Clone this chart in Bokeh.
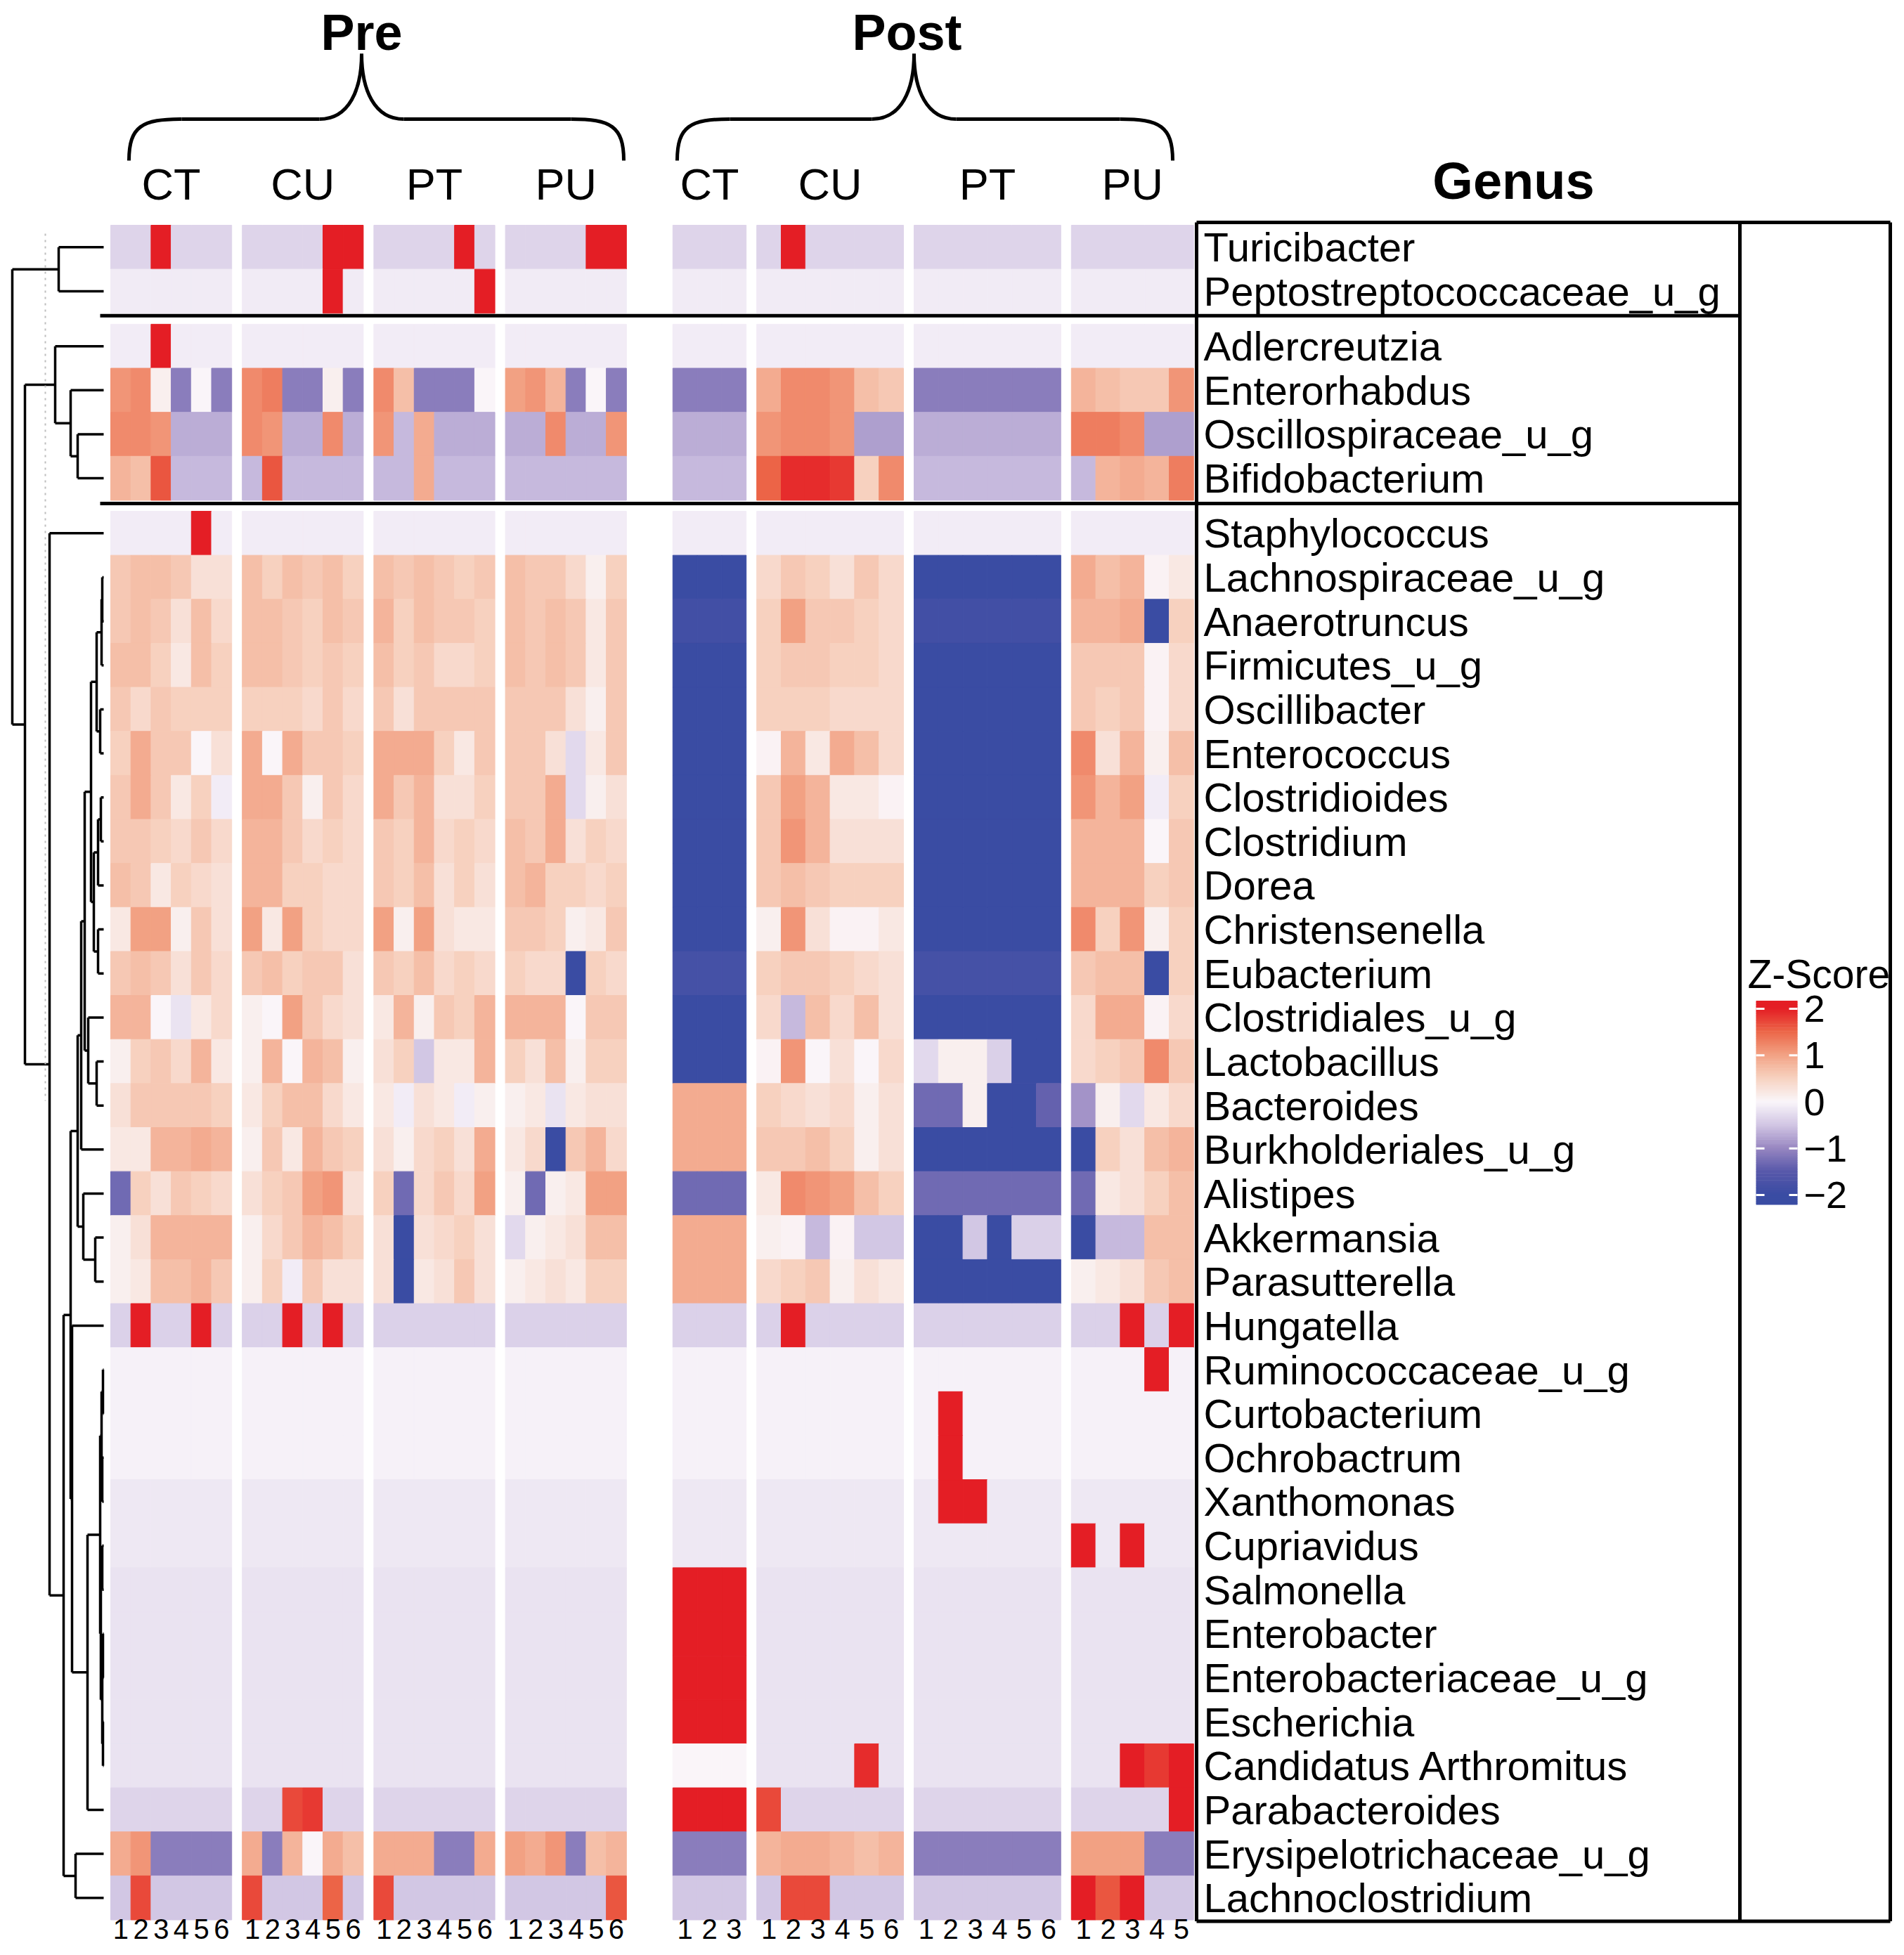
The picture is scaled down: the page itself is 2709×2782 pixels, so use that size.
import numpy as np
from bokeh.plotting import figure
from bokeh.models import Range1d, LinearColorMapper, ColumnDataSource
from bokeh.transform import transform
from bokeh.core.properties import value
from bokeh.embed import file_html
from bokeh.resources import INLINE

# ---------------- data ----------------
genera = ["Turicibacter", "Peptostreptococcaceae_u_g", "Adlercreutzia", "Enterorhabdus",
          "Oscillospiraceae_u_g", "Bifidobacterium", "Staphylococcus", "Lachnospiraceae_u_g",
          "Anaerotruncus", "Firmicutes_u_g", "Oscillibacter", "Enterococcus", "Clostridioides",
          "Clostridium", "Dorea", "Christensenella", "Eubacterium", "Clostridiales_u_g",
          "Lactobacillus", "Bacteroides", "Burkholderiales_u_g", "Alistipes", "Akkermansia",
          "Parasutterella", "Hungatella", "Ruminococcaceae_u_g", "Curtobacterium", "Ochrobactrum",
          "Xanthomonas", "Cupriavidus", "Salmonella", "Enterobacter", "Enterobacteriaceae_u_g",
          "Escherichia", "Candidatus Arthromitus", "Parabacteroides", "Erysipelotrichaceae_u_g",
          "Lachnoclostridium"]
section_sizes = [2, 4, 32]
phases = ["Pre", "Post"]
treatments = ["CT", "CU", "PT", "PU"]
pre_reps = [6, 6, 6, 6]
post_reps = [3, 6, 6, 5]

# z-scores: Pre CT(6) CU(6) PT(6) PU(6) | Post CT(3) CU(6) PT(6) PU(5)
z_turicibacter = [-0.35,-0.35,2.3,-0.35,-0.35,-0.35, -0.35,-0.35,-0.35,-0.35,2.3,2.3, -0.35,-0.35,-0.35,-0.35,2.3,-0.35, -0.35,-0.35,-0.35,-0.35,2.3,2.3,
                  -0.35,-0.35,-0.35, -0.35,2.3,-0.35,-0.35,-0.35,-0.35, -0.35,-0.35,-0.35,-0.35,-0.35,-0.35, -0.35,-0.35,-0.35,-0.35,-0.35]
z_peptostrep = [-0.12,-0.12,-0.12,-0.12,-0.12,-0.12, -0.12,-0.12,-0.12,-0.12,2.3,-0.12, -0.12,-0.12,-0.12,-0.12,-0.12,2.3, -0.12,-0.12,-0.12,-0.12,-0.12,-0.12,
                -0.12,-0.12,-0.12, -0.12,-0.12,-0.12,-0.12,-0.12,-0.12, -0.12,-0.12,-0.12,-0.12,-0.12,-0.12, -0.12,-0.12,-0.12,-0.12,-0.12]
z_adlercreutzia = [-0.1,-0.1,2.3,-0.1,-0.1,-0.1, -0.1,-0.1,-0.1,-0.1,-0.1,-0.1, -0.1,-0.1,-0.1,-0.1,-0.1,-0.1, -0.1,-0.1,-0.1,-0.1,-0.1,-0.1,
                   -0.1,-0.1,-0.1, -0.1,-0.1,-0.1,-0.1,-0.1,-0.1, -0.1,-0.1,-0.1,-0.1,-0.1,-0.1, -0.1,-0.1,-0.1,-0.1,-0.1]
z_enterorhabdus = [1.1,1.2,0.1,-1.1,0.0,-1.1, 1.2,1.3,-1.1,-1.1,0.1,-1.1, 1.2,0.7,-1.1,-1.1,-1.1,0.0, 1.0,1.1,0.8,-1.1,0.0,-1.1,
                   -1.1,-1.1,-1.1, 0.9,1.2,1.2,1.1,0.7,0.6, -1.1,-1.1,-1.1,-1.1,-1.1,-1.1, 0.8,0.7,0.6,0.6,1.1]
z_oscillospiraceae = [1.2,1.2,1.1,-0.7,-0.7,-0.7, 1.2,1.1,-0.7,-0.7,1.2,-0.7, 1.1,-0.6,0.9,-0.7,-0.7,-0.7, -0.7,-0.7,1.2,-0.7,-0.7,1.1,
                      -0.7,-0.7,-0.7, 1.1,1.2,1.2,1.1,-0.8,-0.8, -0.7,-0.7,-0.7,-0.7,-0.7,-0.7, 1.3,1.3,1.2,-0.8,-0.8]
z_bifidobacterium = [0.8,0.7,1.6,-0.6,-0.6,-0.6, -0.6,1.6,-0.6,-0.6,-0.6,-0.6, -0.6,-0.6,0.9,-0.6,-0.6,-0.6, -0.6,-0.6,-0.6,-0.6,-0.6,-0.6,
                     -0.6,-0.6,-0.6, 1.5,1.9,1.9,1.8,0.5,1.2, -0.6,-0.6,-0.6,-0.6,-0.6,-0.6, -0.6,0.8,0.9,0.8,1.3]
z_staphylococcus = [-0.1,-0.1,-0.1,-0.1,2.3,-0.1, -0.1,-0.1,-0.1,-0.1,-0.1,-0.1, -0.1,-0.1,-0.1,-0.1,-0.1,-0.1, -0.1,-0.1,-0.1,-0.1,-0.1,-0.1,
                    -0.1,-0.1,-0.1, -0.1,-0.1,-0.1,-0.1,-0.1,-0.1, -0.1,-0.1,-0.1,-0.1,-0.1,-0.1, -0.1,-0.1,-0.1,-0.1,-0.1]
z_lachnospiraceae = [0.6,0.7,0.7,0.6,0.3,0.3, 0.7,0.5,0.7,0.6,0.7,0.5, 0.7,0.6,0.7,0.6,0.5,0.6, 0.7,0.6,0.6,0.4,0.1,0.5,
                     -2.0,-2.0,-2.0, 0.4,0.6,0.5,0.3,0.6,0.4, -2.0,-2.0,-2.0,-2.0,-2.0,-2.0, 0.9,0.7,0.8,0.05,0.2]
z_anaerotruncus = [0.6,0.7,0.6,0.3,0.7,0.4, 0.7,0.7,0.6,0.5,0.7,0.6, 0.8,0.5,0.7,0.6,0.6,0.5, 0.7,0.6,0.7,0.6,0.2,0.6,
                   -1.85,-1.85,-1.85, 0.5,1.0,0.6,0.6,0.5,0.4, -1.85,-1.85,-1.85,-1.85,-1.85,-1.85, 0.8,0.8,0.9,-2.0,0.5]
z_firmicutes = [0.7,0.7,0.5,0.2,0.7,0.5, 0.7,0.7,0.6,0.5,0.6,0.5, 0.7,0.5,0.6,0.4,0.4,0.5, 0.7,0.6,0.7,0.6,0.2,0.6,
                -2.0,-2.0,-2.0, 0.5,0.6,0.6,0.5,0.5,0.4, -2.0,-2.0,-2.0,-2.0,-2.0,-2.0, 0.6,0.6,0.6,0.05,0.4]
z_oscillibacter = [0.6,0.4,0.6,0.5,0.5,0.5, 0.5,0.5,0.5,0.4,0.6,0.4, 0.6,0.3,0.6,0.6,0.6,0.6, 0.6,0.6,0.6,0.3,0.1,0.6,
                   -2.0,-2.0,-2.0, 0.5,0.5,0.5,0.4,0.4,0.4, -2.0,-2.0,-2.0,-2.0,-2.0,-2.0, 0.6,0.5,0.6,0.05,0.4]
z_enterococcus = [0.5,0.9,0.6,0.6,0.0,0.3, 0.9,0.0,0.9,0.6,0.6,0.5, 0.9,0.9,0.9,0.5,0.2,0.6, 0.6,0.6,0.3,-0.3,0.2,0.6,
                  -2.0,-2.0,-2.0, 0.05,0.8,0.2,0.9,0.7,0.4, -2.0,-2.0,-2.0,-2.0,-2.0,-2.0, 1.2,0.3,0.8,0.1,0.7]
z_clostridioides = [0.6,0.9,0.6,0.2,0.5,-0.1, 0.9,0.9,0.6,0.1,0.6,0.4, 0.9,0.6,0.8,0.3,0.3,0.5, 0.6,0.6,0.9,-0.3,0.1,0.3,
                    -2.0,-2.0,-2.0, 0.6,1.0,0.8,0.2,0.2,0.05, -2.0,-2.0,-2.0,-2.0,-2.0,-2.0, 1.1,0.8,1.0,-0.1,0.5]
z_clostridium = [0.6,0.6,0.5,0.4,0.6,0.4, 0.8,0.8,0.6,0.4,0.5,0.4, 0.6,0.5,0.8,0.4,0.5,0.4, 0.7,0.6,0.9,0.3,0.5,0.4,
                 -2.0,-2.0,-2.0, 0.6,1.1,0.8,0.3,0.3,0.3, -2.0,-2.0,-2.0,-2.0,-2.0,-2.0, 0.8,0.8,0.8,0.0,0.6]
z_dorea = [0.7,0.6,0.2,0.5,0.4,0.3, 0.8,0.8,0.5,0.5,0.4,0.4, 0.6,0.5,0.7,0.3,0.5,0.3, 0.7,0.8,0.5,0.5,0.4,0.5,
           -2.0,-2.0,-2.0, 0.6,0.7,0.6,0.5,0.5,0.5, -2.0,-2.0,-2.0,-2.0,-2.0,-2.0, 0.8,0.8,0.8,0.5,0.6]
z_christensenella = [0.2,1.0,1.0,0.1,0.6,0.3, 1.0,0.2,1.0,0.5,0.4,0.4, 1.0,0.1,1.0,0.3,0.2,0.2, 0.6,0.6,0.5,0.1,0.2,0.6,
                     -2.0,-2.0,-2.0, 0.1,1.1,0.3,0.05,0.05,0.2, -2.0,-2.0,-2.0,-2.0,-2.0,-2.0, 1.2,0.5,1.1,0.1,0.5]
z_eubacterium = [0.6,0.7,0.6,0.3,0.6,0.4, 0.6,0.7,0.5,0.6,0.6,0.3, 0.6,0.5,0.7,0.4,0.5,0.4, 0.5,0.4,0.4,-2.0,0.5,0.4,
                 -1.8,-1.8,-1.8, 0.5,0.6,0.6,0.5,0.4,0.3, -1.8,-1.8,-1.8,-1.8,-1.8,-1.8, 0.6,0.7,0.7,-2.0,0.5]
z_clostridiales = [0.8,0.8,0.0,-0.2,0.2,0.4, 0.1,0.0,1.0,0.6,0.4,0.3, 0.2,0.8,0.1,0.6,0.5,0.8, 0.8,0.8,0.8,0.0,0.6,0.6,
                   -2.0,-2.0,-2.0, 0.4,-0.6,0.7,0.4,0.7,0.3, -2.0,-2.0,-2.0,-2.0,-2.0,-2.0, 0.4,0.9,0.9,0.05,0.4]
z_lactobacillus = [0.1,0.5,0.6,0.4,0.8,0.2, 0.1,0.8,0.0,0.8,0.7,0.1, 0.3,0.5,-0.5,0.2,0.2,0.8, 0.5,0.3,0.7,0.1,0.5,0.5,
                   -2.1,-2.1,-2.1, 0.05,1.1,0.0,0.3,0.0,0.4, -0.3,0.1,0.1,-0.4,-2.0,-2.0, 0.4,0.5,0.6,1.2,0.6]
z_bacteroides = [0.3,0.6,0.6,0.6,0.6,0.5, 0.2,0.5,0.7,0.7,0.4,0.2, 0.2,-0.1,0.3,0.2,-0.1,0.1, 0.1,0.2,-0.2,0.2,0.3,0.3,
                 0.9,0.9,0.9, 0.5,0.4,0.3,0.4,0.1,0.3, -1.3,-1.3,0.1,-2.0,-2.0,-1.4, -0.9,0.1,-0.3,0.2,0.4]
z_burkholderiales = [0.2,0.2,0.8,0.8,0.9,0.8, 0.1,0.6,0.2,0.8,0.6,0.5, 0.3,0.1,0.4,0.5,0.3,0.9, 0.2,0.4,-2.0,0.6,0.8,0.4,
                     0.9,0.9,0.9, 0.6,0.6,0.7,0.5,0.1,0.3, -2.0,-2.0,-2.0,-2.0,-2.0,-2.0, -2.0,0.5,0.3,0.7,0.8]
z_alistipes = [-1.3,0.5,0.3,0.6,0.5,0.4, 0.3,0.5,0.6,1.0,1.1,0.3, 0.5,-1.3,0.4,0.6,0.4,1.0, 0.1,-1.3,0.1,0.2,1.0,1.0,
               -1.3,-1.3,-1.3, 0.2,1.2,1.1,1.0,0.7,0.5, -1.3,-1.3,-1.3,-1.3,-1.3,-1.3, -1.3,0.2,0.3,0.5,0.7]
z_akkermansia = [0.1,0.3,0.8,0.8,0.8,0.8, 0.1,0.4,0.6,0.8,0.7,0.5, 0.3,-2.0,0.3,0.4,0.5,0.3, -0.3,0.1,0.2,0.3,0.7,0.7,
                 0.9,0.9,0.9, 0.1,0.05,-0.6,0.05,-0.5,-0.5, -2.0,-2.0,-0.5,-2.0,-0.4,-0.4, -2.0,-0.6,-0.6,0.7,0.7]
z_parasutterella = [0.1,0.2,0.7,0.7,0.8,0.6, 0.1,0.5,-0.1,0.6,0.3,0.3, 0.3,-2.0,0.2,0.3,0.6,0.3, 0.1,0.2,0.3,0.2,0.5,0.5,
                    0.9,0.9,0.9, 0.4,0.5,0.6,0.1,0.3,0.2, -2.0,-2.0,-2.0,-2.0,-2.0,-2.0, 0.1,0.2,0.3,0.6,0.7]
z_hungatella = [-0.38,2.3,-0.38,-0.38,2.3,-0.38, -0.38,-0.38,2.3,-0.38,2.3,-0.38, -0.38,-0.38,-0.38,-0.38,-0.38,-0.38, -0.38,-0.38,-0.38,-0.38,-0.38,-0.38,
                -0.38,-0.38,-0.38, -0.38,2.3,-0.38,-0.38,-0.38,-0.38, -0.38,-0.38,-0.38,-0.38,-0.38,-0.38, -0.38,-0.38,2.3,-0.38,2.3]
z_ruminococcaceae = [-0.05,-0.05,-0.05,-0.05,-0.05,-0.05, -0.05,-0.05,-0.05,-0.05,-0.05,-0.05, -0.05,-0.05,-0.05,-0.05,-0.05,-0.05, -0.05,-0.05,-0.05,-0.05,-0.05,-0.05,
                     -0.05,-0.05,-0.05, -0.05,-0.05,-0.05,-0.05,-0.05,-0.05, -0.05,-0.05,-0.05,-0.05,-0.05,-0.05, -0.05,-0.05,-0.05,2.3,-0.05]
z_curtobacterium = [-0.05,-0.05,-0.05,-0.05,-0.05,-0.05, -0.05,-0.05,-0.05,-0.05,-0.05,-0.05, -0.05,-0.05,-0.05,-0.05,-0.05,-0.05, -0.05,-0.05,-0.05,-0.05,-0.05,-0.05,
                    -0.05,-0.05,-0.05, -0.05,-0.05,-0.05,-0.05,-0.05,-0.05, -0.05,2.3,-0.05,-0.05,-0.05,-0.05, -0.05,-0.05,-0.05,-0.05,-0.05]
z_ochrobactrum = [-0.05,-0.05,-0.05,-0.05,-0.05,-0.05, -0.05,-0.05,-0.05,-0.05,-0.05,-0.05, -0.05,-0.05,-0.05,-0.05,-0.05,-0.05, -0.05,-0.05,-0.05,-0.05,-0.05,-0.05,
                  -0.05,-0.05,-0.05, -0.05,-0.05,-0.05,-0.05,-0.05,-0.05, -0.05,2.3,-0.05,-0.05,-0.05,-0.05, -0.05,-0.05,-0.05,-0.05,-0.05]
z_xanthomonas = [-0.15,-0.15,-0.15,-0.15,-0.15,-0.15, -0.15,-0.15,-0.15,-0.15,-0.15,-0.15, -0.15,-0.15,-0.15,-0.15,-0.15,-0.15, -0.15,-0.15,-0.15,-0.15,-0.15,-0.15,
                 -0.15,-0.15,-0.15, -0.15,-0.15,-0.15,-0.15,-0.15,-0.15, -0.15,2.3,2.3,-0.15,-0.15,-0.15, -0.15,-0.15,-0.15,-0.15,-0.15]
z_cupriavidus = [-0.15,-0.15,-0.15,-0.15,-0.15,-0.15, -0.15,-0.15,-0.15,-0.15,-0.15,-0.15, -0.15,-0.15,-0.15,-0.15,-0.15,-0.15, -0.15,-0.15,-0.15,-0.15,-0.15,-0.15,
                 -0.15,-0.15,-0.15, -0.15,-0.15,-0.15,-0.15,-0.15,-0.15, -0.15,-0.15,-0.15,-0.15,-0.15,-0.15, 2.3,-0.15,2.3,-0.15,-0.15]
z_salmonella = [-0.2,-0.2,-0.2,-0.2,-0.2,-0.2, -0.2,-0.2,-0.2,-0.2,-0.2,-0.2, -0.2,-0.2,-0.2,-0.2,-0.2,-0.2, -0.2,-0.2,-0.2,-0.2,-0.2,-0.2,
                2.3,2.3,2.3, -0.2,-0.2,-0.2,-0.2,-0.2,-0.2, -0.2,-0.2,-0.2,-0.2,-0.2,-0.2, -0.2,-0.2,-0.2,-0.2,-0.2]
z_enterobacter = [-0.2,-0.2,-0.2,-0.2,-0.2,-0.2, -0.2,-0.2,-0.2,-0.2,-0.2,-0.2, -0.2,-0.2,-0.2,-0.2,-0.2,-0.2, -0.2,-0.2,-0.2,-0.2,-0.2,-0.2,
                  2.3,2.3,2.3, -0.2,-0.2,-0.2,-0.2,-0.2,-0.2, -0.2,-0.2,-0.2,-0.2,-0.2,-0.2, -0.2,-0.2,-0.2,-0.2,-0.2]
z_enterobacteriaceae = [-0.2,-0.2,-0.2,-0.2,-0.2,-0.2, -0.2,-0.2,-0.2,-0.2,-0.2,-0.2, -0.2,-0.2,-0.2,-0.2,-0.2,-0.2, -0.2,-0.2,-0.2,-0.2,-0.2,-0.2,
                        2.3,2.3,2.3, -0.2,-0.2,-0.2,-0.2,-0.2,-0.2, -0.2,-0.2,-0.2,-0.2,-0.2,-0.2, -0.2,-0.2,-0.2,-0.2,-0.2]
z_escherichia = [-0.2,-0.2,-0.2,-0.2,-0.2,-0.2, -0.2,-0.2,-0.2,-0.2,-0.2,-0.2, -0.2,-0.2,-0.2,-0.2,-0.2,-0.2, -0.2,-0.2,-0.2,-0.2,-0.2,-0.2,
                 2.3,2.3,2.3, -0.2,-0.2,-0.2,-0.2,-0.2,-0.2, -0.2,-0.2,-0.2,-0.2,-0.2,-0.2, -0.2,-0.2,-0.2,-0.2,-0.2]
z_candidatus = [-0.2,-0.2,-0.2,-0.2,-0.2,-0.2, -0.2,-0.2,-0.2,-0.2,-0.2,-0.2, -0.2,-0.2,-0.2,-0.2,-0.2,-0.2, -0.2,-0.2,-0.2,-0.2,-0.2,-0.2,
                0.0,0.0,0.0, -0.2,-0.2,-0.2,-0.2,1.9,-0.2, -0.2,-0.2,-0.2,-0.2,-0.2,-0.2, -0.2,-0.2,2.3,1.8,2.3]
z_parabacteroides = [-0.35,-0.35,-0.35,-0.35,-0.35,-0.35, -0.35,-0.35,1.7,1.8,-0.35,-0.35, -0.35,-0.35,-0.35,-0.35,-0.35,-0.35, -0.35,-0.35,-0.35,-0.35,-0.35,-0.35,
                     2.3,2.3,2.3, 1.7,-0.35,-0.35,-0.35,-0.35,-0.35, -0.35,-0.35,-0.35,-0.35,-0.35,-0.35, -0.35,-0.35,-0.35,-0.35,2.3]
z_erysipelotrichaceae = [0.9,1.1,-1.1,-1.1,-1.1,-1.1, 0.9,-1.1,0.8,0.0,0.9,0.7, 0.9,0.9,0.9,-1.1,-1.1,0.9, 1.0,0.9,1.1,-1.1,0.7,0.8,
                         -1.1,-1.1,-1.1, 0.8,0.9,0.9,0.8,0.7,0.8, -1.1,-1.1,-1.1,-1.1,-1.1,-1.1, 1.0,1.0,1.0,-1.1,-1.1]
z_lachnoclostridium = [-0.5,1.7,-0.5,-0.5,-0.5,-0.5, 1.7,-0.5,-0.5,-0.5,1.5,-0.5, 1.7,-0.5,-0.5,-0.5,-0.5,-0.5, -0.5,-0.5,-0.5,-0.5,-0.5,1.6,
                       -0.5,-0.5,-0.5, -0.5,1.7,1.7,-0.5,-0.5,-0.5, -0.5,-0.5,-0.5,-0.5,-0.5,-0.5, 2.0,1.6,2.0,-0.5,-0.5]

z_rows = [z_turicibacter, z_peptostrep, z_adlercreutzia, z_enterorhabdus, z_oscillospiraceae,
          z_bifidobacterium, z_staphylococcus, z_lachnospiraceae, z_anaerotruncus, z_firmicutes,
          z_oscillibacter, z_enterococcus, z_clostridioides, z_clostridium, z_dorea, z_christensenella,
          z_eubacterium, z_clostridiales, z_lactobacillus, z_bacteroides, z_burkholderiales,
          z_alistipes, z_akkermansia, z_parasutterella, z_hungatella, z_ruminococcaceae,
          z_curtobacterium, z_ochrobactrum, z_xanthomonas, z_cupriavidus, z_salmonella,
          z_enterobacter, z_enterobacteriaceae, z_escherichia, z_candidatus, z_parabacteroides,
          z_erysipelotrichaceae, z_lachnoclostridium]

# row dendrogram: (merge height, left, right); leaves are row indices
row_tree = (130,
            (64, 0, 1),
            (112,
             (69, 2, (47, 3, (37, 4, 5))),
             (77, 6,
              (57,
               (47,
                (37,
                 (32,
                  (27,
                   (18, (10, (3, (2, 7, 8), 9), (5, 10, 11)),
                        (14, (8, (4, 12, 13), 14), (8, 15, 16))),
                   (22, 17, (10, 18, 19))),
                  20),
                 (29, 21, (12, 22, 23))),
                (45, 24,
                 (23, (5, (3, (1, 25, 26), (2, 27, 28)),
                          (4, (2, 29, 30), (2, (1, 31, 32), (1, 33, 34)))), 35))),
               (40, 36, 37)))))

for r in z_rows:
    assert len(r) == 44, len(r)

# ---------------- layout (reference pixel space) ----------------
X_PRE0, W_PRE, W_POST, GAP_GRP, GAP_PHASE = 157.0, 28.7, 34.8, 15.0, 66.0
Y_TOP, ROW_H, GAP_SEC = 320.0, 62.64, 15.6
LEAF_X = 147.0
FONT = value("Liberation Sans")
PW, PH = 2693, 2766

col_left, col_w, col_lab, group_spans = [], [], [], []
x = X_PRE0
for phase, reps, w in (("Pre", pre_reps, W_PRE), ("Post", post_reps, W_POST)):
    for t, n in zip(treatments, reps):
        start = x
        for i in range(n):
            col_left.append(x)
            col_w.append(w)
            col_lab.append(str(i + 1))
            x += w
        group_spans.append((phase, t, start, x))
        x += GAP_GRP
    x += GAP_PHASE - GAP_GRP
heat_right = col_left[-1] + col_w[-1]

row_top = []
y = Y_TOP
for n in section_sizes:
    for i in range(n):
        row_top.append(y)
        y += ROW_H
    y += GAP_SEC
row_mid = [t + ROW_H / 2 for t in row_top]
heat_bottom = row_top[-1] + ROW_H

# ---------------- colours ----------------
anchor_v = [-2, -1.5, -1, -0.5, 0, 0.5, 1, 1.5, 2]
anchor_rgb = [(58, 76, 163), (88, 88, 170), (152, 135, 193), (210, 198, 228), (250, 246, 250),
              (247, 210, 192), (242, 162, 132), (236, 102, 72), (228, 30, 37)]
pal = []
for v in np.linspace(-2, 2, 256):
    rgb = [int(round(np.interp(v, anchor_v, [c[k] for c in anchor_rgb]))) for k in range(3)]
    pal.append("#%02x%02x%02x" % tuple(rgb))
mapper = LinearColorMapper(palette=pal, low=-2, high=2)

# ---------------- figure ----------------
p = figure(width=PW, height=PH, x_range=Range1d(0, PW), y_range=Range1d(PH, 0),
           output_backend="svg", toolbar_location=None, min_border=0)
p.axis.visible = False
p.grid.visible = False
p.outline_line_color = None
p.background_fill_color = "white"

# heatmap cells
L, R, T, B, Z = [], [], [], [], []
for ri, zr in enumerate(z_rows):
    for ci, zv in enumerate(zr):
        L.append(col_left[ci]); R.append(col_left[ci] + col_w[ci])
        T.append(row_top[ri]); B.append(row_top[ri] + ROW_H); Z.append(zv)
src = ColumnDataSource(dict(left=L, right=R, top=T, bottom=B, z=Z))
p.quad(left="left", right="right", top="top", bottom="bottom", source=src,
       fill_color=transform("z", mapper), line_color=transform("z", mapper), line_width=1)

# dendrogram
segs_x0, segs_y0, segs_x1, segs_y1 = [], [], [], []
def xpos(h):
    return LEAF_X - h
def walk(node):
    if isinstance(node, int):
        return row_mid[node], 0.0
    h, a, b = node
    ya, ha = walk(a)
    yb, hb = walk(b)
    xn = xpos(h)
    segs_x0.extend([xn, xn, xn]); segs_y0.extend([ya, ya, yb])
    segs_x1.extend([xn, xpos(ha), xpos(hb)]); segs_y1.extend([yb, ya, yb])
    return (ya + yb) / 2, h
walk(row_tree)
p.segment(x0=segs_x0, y0=segs_y0, x1=segs_x1, y1=segs_y1, line_color="black", line_width=3.5)
p.segment(x0=[64], y0=[row_top[0] + 12], x1=[64], y1=[row_mid[24] - 320],
          line_color="#bdbdbd", line_width=2, line_dash="3 6")

# separators between row clusters
sep_y = [row_top[1] + ROW_H + 3.5, row_top[5] + ROW_H + 4.5]
p.segment(x0=[142, 142], y0=sep_y, x1=[2475, 2475], y1=sep_y, line_color="black", line_width=5)

# label box and legend box
box_top, box_bot, box_l, box_m, box_r = 316, heat_bottom + 2, 1702, 2475, 2689
p.segment(x0=[box_l, box_m, box_r, box_l, box_l], y0=[box_top, box_top, box_top, box_top, box_bot],
          x1=[box_l, box_m, box_r, box_r, box_r], y1=[box_bot, box_bot, box_bot, box_top, box_bot],
          line_color="black", line_width=5)

# genus labels
p.text(x=[1712] * len(genera), y=row_mid, text=genera, text_font=FONT, text_font_size="58px",
       text_baseline="middle", text_align="left", text_color="black")
p.text(x=[2153], y=[257], text=["Genus"], text_font=FONT, text_font_size="74px",
       text_font_style="bold", text_baseline="middle", text_align="center")

# sample numbers
p.text(x=[l + w / 2 for l, w in zip(col_left, col_w)], y=[2744] * len(col_left), text=col_lab,
       text_font=FONT, text_font_size="40px", text_baseline="middle", text_align="center")

# treatment labels
p.text(x=[(s + e) / 2 for _, _, s, e in group_spans], y=[261] * len(group_spans),
       text=[t for _, t, _, _ in group_spans], text_font=FONT, text_font_size="63px",
       text_baseline="middle", text_align="center")

# phase labels and braces
brace_ends = {"Pre": (183, 887), "Post": (963, 1668)}
tips = {"Pre": 514, "Post": 1300}
label_x = {"Pre": 514, "Post": 1290}
bx0, by0, bx1, by1, bcx0, bcy0, bcx1, bcy1 = [], [], [], [], [], [], [], []
lx0, ly0, lx1, ly1 = [], [], [], []
yb_, ya_, yt_ = 228, 169, 76
for ph in phases:
    xl, xr = brace_ends[ph]
    xc = tips[ph]
    r1, r2 = 75, 60
    curves = [((xl, yb_), (xl, ya_ + 10), (xl + r1 * 0.25, ya_), (xl + r1, ya_)),
              ((xc - r2, ya_), (xc - r2 * 0.3, ya_), (xc, ya_ - (ya_ - yt_) * 0.45), (xc, yt_)),
              ((xc, yt_), (xc, ya_ - (ya_ - yt_) * 0.45), (xc + r2 * 0.3, ya_), (xc + r2, ya_)),
              ((xr - r1, ya_), (xr - r1 * 0.25, ya_), (xr, ya_ + 10), (xr, yb_))]
    for P0, C0, C1, P1 in curves:
        bx0.append(P0[0]); by0.append(P0[1]); bx1.append(P1[0]); by1.append(P1[1])
        bcx0.append(C0[0]); bcy0.append(C0[1]); bcx1.append(C1[0]); bcy1.append(C1[1])
    lx0 += [xl + r1, xc + r2]; ly0 += [ya_, ya_]; lx1 += [xc - r2, xr - r1]; ly1 += [ya_, ya_]
p.bezier(x0=bx0, y0=by0, x1=bx1, y1=by1, cx0=bcx0, cy0=bcy0, cx1=bcx1, cy1=bcy1,
         line_color="black", line_width=5)
p.segment(x0=lx0, y0=ly0, x1=lx1, y1=ly1, line_color="black", line_width=5)
p.text(x=[label_x[ph] for ph in phases], y=[45, 45], text=phases, text_font=FONT,
       text_font_size="72px", text_font_style="bold", text_baseline="middle", text_align="center")

# colour key
def cb_y(v):
    return 1567.5 - v * 66.25
cb_vals = np.linspace(-2.2, 2.15, 175)
dv = cb_vals[1] - cb_vals[0]
p.quad(left=[2498] * len(cb_vals), right=[2557] * len(cb_vals),
       top=[cb_y(v + dv / 2 + 0.01) for v in cb_vals], bottom=[cb_y(v - dv / 2) for v in cb_vals],
       fill_color=[pal[int(np.clip((v + 2) / 4 * 255, 0, 255))] for v in cb_vals], line_color=None)
key_ticks = [2, 1, 0, -1, -2]
tk = [v for v in key_ticks if v != 0]
p.segment(x0=[2498] * 4 + [2545] * 4, y0=[cb_y(v) for v in tk] * 2,
          x1=[2510] * 4 + [2557] * 4, y1=[cb_y(v) for v in tk] * 2, line_color="white", line_width=3)
p.text(x=[2566] * 5, y=[cb_y(v) for v in key_ticks],
       text=[str(v).replace("-", "\u2212") for v in key_ticks], text_font=FONT,
       text_font_size="54px", text_baseline="middle", text_align="left")
p.text(x=[2486], y=[1385], text=["Z-Score"], text_font=FONT, text_font_size="57px",
       text_baseline="middle", text_align="left")

open("out.html", "w").write(file_html(p, INLINE))
